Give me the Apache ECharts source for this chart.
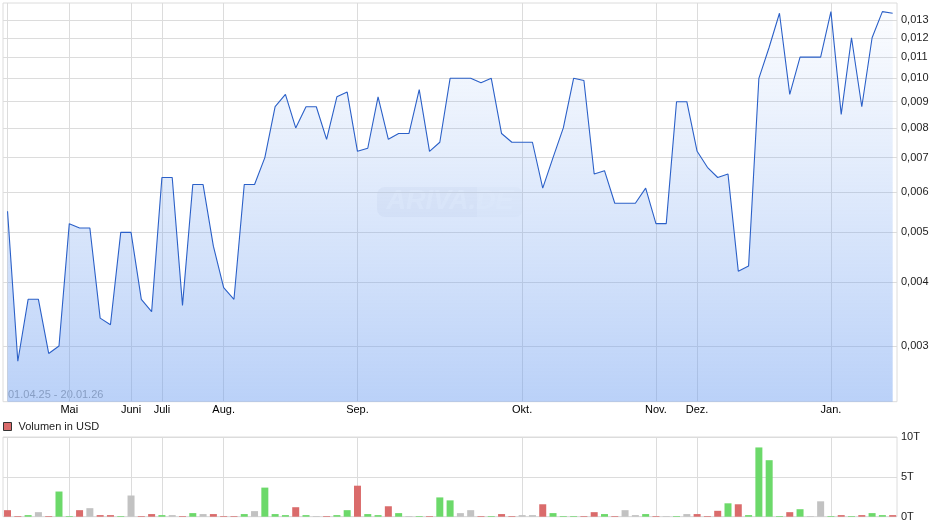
<!DOCTYPE html>
<html>
<head>
<meta charset="utf-8">
<script src="https://cdn.jsdelivr.net/npm/echarts@6/dist/echarts.min.js"></script>
<style>
html,body{margin:0;padding:0;background:#fff;}
#chart{width:940px;height:526px;}
</style>
</head>
<body>
<div id="chart"></div>
<script>
// ---- data ----
const monthLabels = ['Mai','Juni','Juli','Aug.','Sep.','Okt.','Nov.','Dez.','Jan.'];
const monthIndex  = [6, 12, 15, 21, 34, 50, 63, 67, 80];
const gridIndex   = [0, 6, 12, 15, 21, 34, 50, 63, 67, 80];
const priceTicks  = [0.003, 0.004, 0.005, 0.006, 0.007, 0.008, 0.009, 0.010, 0.011, 0.012, 0.013];
const volumeTicks = [0, 5, 10];
const dateRange   = '01.04.25 - 20.01.26';

const prices = [
  0.0055, 0.0028, 0.0037, 0.0037, 0.0029, 0.0030, 0.0052, 0.0051, 0.0051, 0.0034,
  0.0033, 0.0050, 0.0050, 0.0037, 0.0035, 0.0064, 0.0064, 0.0036, 0.0062, 0.0062,
  0.0047, 0.0039, 0.0037, 0.0062, 0.0062, 0.0070, 0.0088, 0.0093, 0.0080, 0.0088,
  0.0088, 0.0076, 0.0092, 0.0094, 0.0072, 0.0073, 0.0092, 0.0076, 0.0078, 0.0078,
  0.0095, 0.0072, 0.0075, 0.0100, 0.0100, 0.0100, 0.0098, 0.0100, 0.0078, 0.0075,
  0.0075, 0.0075, 0.0061, 0.0070, 0.0080, 0.0100, 0.0099, 0.0065, 0.0066, 0.0057,
  0.0057, 0.0057, 0.0061, 0.0052, 0.0052, 0.0090, 0.0090, 0.0072, 0.0067, 0.0064,
  0.0065, 0.0042, 0.0043, 0.0100, 0.0115, 0.0134, 0.0093, 0.0110, 0.0110, 0.0110,
  0.0135, 0.0085, 0.0120, 0.0088, 0.0120, 0.0135, 0.0134
];
// volume in thousand USD (T)
const volumes = [
  0.82, 0.08, 0.20, 0.57, 0.08, 3.16, 0.08, 0.82, 1.07, 0.20,
  0.20, 0.08, 2.66, 0.08, 0.33, 0.20, 0.20, 0.08, 0.45, 0.33,
  0.33, 0.08, 0.08, 0.33, 0.70, 3.65, 0.33, 0.20, 1.19, 0.20,
  0.08, 0.08, 0.20, 0.82, 3.89, 0.33, 0.20, 1.31, 0.45, 0.08,
  0.08, 0.08, 2.42, 2.05, 0.45, 0.82, 0.08, 0.08, 0.33, 0.08,
  0.20, 0.20, 1.56, 0.45, 0.08, 0.08, 0.08, 0.57, 0.33, 0.08,
  0.82, 0.20, 0.33, 0.08, 0.08, 0.08, 0.33, 0.33, 0.08, 0.74,
  1.68, 1.56, 0.20, 8.69, 7.09, 0.08, 0.57, 0.94, 0.08, 1.93,
  0.08, 0.20, 0.08, 0.20, 0.45, 0.20, 0.20
];

// ---- styles ----
const FONT = "'Liberation Sans', Arial, sans-serif";
const GRID_COLOR = '#dcdcdc';
const UP = '#6cd96a', DOWN = '#da6b6b', FLAT = '#c2c2c2';

const priceData = prices.map((v, i) => [i, v]);
const volumeData = volumes.map((v, i) => {
  const d = i === 0 ? -1 : Math.sign(prices[i] - prices[i - 1]);
  return { value: [i, v], itemStyle: { color: d > 0 ? UP : (d < 0 ? DOWN : FLAT) } };
});

const fmtPrice = v => Number(v).toFixed(3).replace('.', ',');
const monthName = v => { const k = monthIndex.indexOf(Math.round(v)); return k >= 0 ? monthLabels[k] : ''; };

const chart = echarts.init(document.getElementById('chart'), null, { renderer: 'canvas' });

const xBase = {
  type: 'value', min: -0.44, max: 86.42,
  axisLine: { show: false },
  axisTick: { show: false, customValues: gridIndex },
  splitLine: { show: true, lineStyle: { color: GRID_COLOR, width: 1 } }
};

chart.setOption({
  animation: false,
  textStyle: { fontFamily: FONT },
  grid: [
    { left: 3, right: 43, top: 3, bottom: 124.3, containLabel: false, outerBoundsMode: 'none',
      show: true, borderColor: GRID_COLOR, borderWidth: 1, backgroundColor: 'transparent' },
    { left: 3, right: 43, top: 437, bottom: 9.3, containLabel: false, outerBoundsMode: 'none',
      show: true, borderColor: GRID_COLOR, borderWidth: 1, backgroundColor: 'transparent' }
  ],
  xAxis: [
    Object.assign({}, xBase, {
      gridIndex: 0,
      axisLabel: { show: true, customValues: monthIndex, formatter: monthName,
                   color: '#000', fontSize: 11, fontFamily: FONT, margin: 3 }
    }),
    Object.assign({}, xBase, {
      gridIndex: 1,
      axisLabel: { show: false }
    })
  ],
  yAxis: [
    {
      gridIndex: 0, type: 'log', logBase: 10, position: 'right',
      min: 0.0023344, max: 0.014032,
      axisLine: { show: false },
      axisTick: { show: false, customValues: priceTicks },
      axisLabel: { show: true, customValues: priceTicks, formatter: fmtPrice,
                   color: '#222', fontSize: 11, fontFamily: FONT, margin: 4 },
      splitLine: { show: true, lineStyle: { color: GRID_COLOR, width: 1 } }
    },
    {
      gridIndex: 1, type: 'value', position: 'right',
      min: 0, max: 10, interval: 5,
      axisLine: { show: false },
      axisTick: { show: false },
      axisLabel: { show: true, formatter: v => v + 'T',
                   color: '#222', fontSize: 11, fontFamily: FONT, margin: 4 },
      splitLine: { show: true, lineStyle: { color: GRID_COLOR, width: 1 } }
    }
  ],
  legend: {
    show: true, left: 3, top: 421, padding: 0,
    itemWidth: 8, itemHeight: 8,
    icon: 'rect',
    data: ['Volumen in USD'],
    itemStyle: { borderColor: '#333', borderWidth: 1 },
    textStyle: { color: '#222', fontSize: 11, fontFamily: FONT, padding: [0, 0, 0, 2] },
    selectedMode: false
  },
  series: [
    {
      name: 'Kurs', type: 'line',
      xAxisIndex: 0, yAxisIndex: 0,
      data: priceData,
      symbol: 'none', smooth: false,
      lineStyle: { color: '#2b60c8', width: 1.1 },
      areaStyle: {
        opacity: 1,
        color: new echarts.graphic.LinearGradient(0, 0, 0, 1, [
          { offset: 0, color: 'rgba(120,165,240,0.03)' },
          { offset: 1, color: 'rgba(105,155,240,0.46)' }
        ])
      },
      z: 2
    },
    {
      name: 'Volumen in USD', type: 'bar',
      xAxisIndex: 1, yAxisIndex: 1,
      data: volumeData,
      barWidth: 7, clip: false,
      itemStyle: { color: DOWN },
      z: 2
    }
  ],
  graphic: [
    { type: 'text', left: 8, top: 389, silent: true,
      style: { text: dateRange, fill: '#a0a0a0', font: '11px ' + FONT } },
    { type: 'group', left: 377, top: 187, silent: true, children: [
      { type: 'rect', shape: { x: 0, y: 0, width: 100, height: 30, r: [8, 0, 0, 8] },
        style: { fill: 'rgba(110,130,170,0.07)' } },
      { type: 'rect', shape: { x: 100, y: 0, width: 46, height: 30, r: [0, 8, 8, 0] },
        style: { fill: 'rgba(110,130,170,0.035)' } },
      { type: 'text', x: 73, y: 15,
        style: { text: 'ARIVA.DE', fill: 'rgba(255,255,255,0.55)', align: 'center', verticalAlign: 'middle',
                 font: 'italic bold 27px ' + FONT } }
    ]}
  ]
});
</script>
</body>
</html>
